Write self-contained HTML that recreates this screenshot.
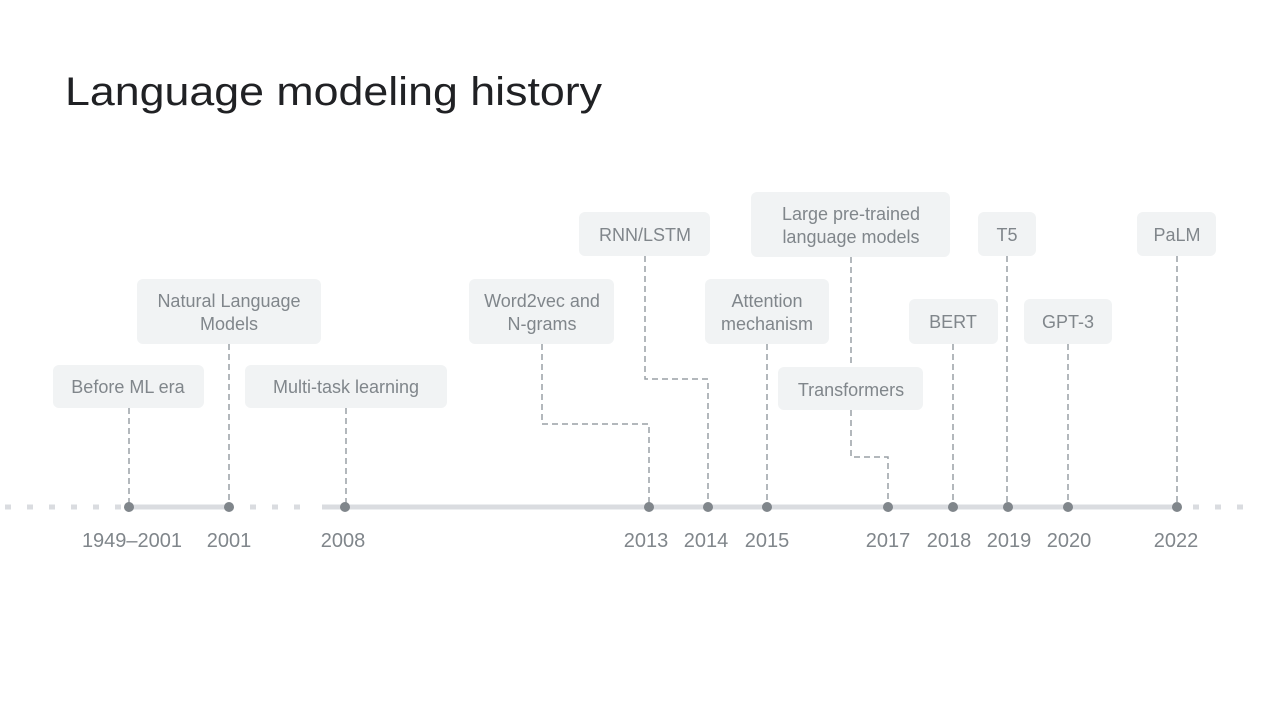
<!DOCTYPE html>
<html><head><meta charset="utf-8"><style>
html,body{margin:0;padding:0;background:#fff;}
svg{display:block;}
text{font-family:"Liberation Sans",sans-serif;}
</style></head><body>
<svg width="1280" height="720" viewBox="0 0 1280 720" xmlns="http://www.w3.org/2000/svg">
<rect width="1280" height="720" fill="#fff"/>
<text x="65" y="105" font-size="40" fill="#202124" textLength="537" lengthAdjust="spacingAndGlyphs">Language modeling history</text>

<!-- dotted timeline parts -->
<g stroke="#dadce0" stroke-width="5" stroke-dasharray="6 16">
<line x1="5" y1="507" x2="125" y2="507"/>
<line x1="250" y1="507" x2="315" y2="507"/>
<line x1="1193" y1="507" x2="1250" y2="507"/>
</g>
<g stroke="#dadce0" stroke-width="5">
<line x1="129" y1="507" x2="229" y2="507"/>
<line x1="322" y1="507" x2="1177" y2="507"/>
</g>

<!-- connectors -->
<g stroke="#9aa0a6" stroke-width="1.5" stroke-dasharray="6 4" fill="none">
<path d="M129 408 V507"/>
<path d="M229 344 V507"/>
<path d="M346 408 V507"/>
<path d="M542 344 V424 H649 V507"/>
<path d="M645 256 V379 H708 V507"/>
<path d="M767 344 V507"/>
<path d="M851 257 V367"/>
<path d="M851 410 V457 H888 V507"/>
<path d="M953 344 V507"/>
<path d="M1007 256 V507"/>
<path d="M1068 344 V507"/>
<path d="M1177 256 V507"/>
</g>

<!-- dots -->
<g fill="#80868b">
<circle cx="129" cy="507" r="5"/><circle cx="229" cy="507" r="5"/><circle cx="345" cy="507" r="5"/>
<circle cx="649" cy="507" r="5"/><circle cx="708" cy="507" r="5"/><circle cx="767" cy="507" r="5"/>
<circle cx="888" cy="507" r="5"/><circle cx="953" cy="507" r="5"/><circle cx="1008" cy="507" r="5"/>
<circle cx="1068" cy="507" r="5"/><circle cx="1177" cy="507" r="5"/>
</g>

<!-- boxes -->
<g fill="#f1f3f4">
<rect x="53" y="365" width="151" height="43" rx="6"/>
<rect x="137" y="279" width="184" height="65" rx="6"/>
<rect x="245" y="365" width="202" height="43" rx="6"/>
<rect x="469" y="279" width="145" height="65" rx="6"/>
<rect x="579" y="212" width="131" height="44" rx="6"/>
<rect x="705" y="279" width="124" height="65" rx="6"/>
<rect x="751" y="192" width="199" height="65" rx="6"/>
<rect x="778" y="367" width="145" height="43" rx="6"/>
<rect x="909" y="299" width="89" height="45" rx="6"/>
<rect x="978" y="212" width="58" height="44" rx="6"/>
<rect x="1024" y="299" width="88" height="45" rx="6"/>
<rect x="1137" y="212" width="79" height="44" rx="6"/>
</g>

<g font-size="18" fill="#80868b" text-anchor="middle">
<text x="128" y="393">Before ML era</text>
<text x="229" y="307">Natural Language</text>
<text x="229" y="330">Models</text>
<text x="346" y="393">Multi-task learning</text>
<text x="542" y="307">Word2vec and</text>
<text x="542" y="330">N-grams</text>
<text x="645" y="241">RNN/LSTM</text>
<text x="767" y="307">Attention</text>
<text x="767" y="330">mechanism</text>
<text x="851" y="220">Large pre-trained</text>
<text x="851" y="243">language models</text>
<text x="851" y="396">Transformers</text>
<text x="953" y="328">BERT</text>
<text x="1007" y="241">T5</text>
<text x="1068" y="328">GPT-3</text>
<text x="1177" y="241">PaLM</text>
</g>

<g font-size="20" fill="#80868b" text-anchor="middle">
<text x="132" y="547">1949–2001</text>
<text x="229" y="547">2001</text>
<text x="343" y="547">2008</text>
<text x="646" y="547">2013</text>
<text x="706" y="547">2014</text>
<text x="767" y="547">2015</text>
<text x="888" y="547">2017</text>
<text x="949" y="547">2018</text>
<text x="1009" y="547">2019</text>
<text x="1069" y="547">2020</text>
<text x="1176" y="547">2022</text>
</g>
</svg>
</body></html>
